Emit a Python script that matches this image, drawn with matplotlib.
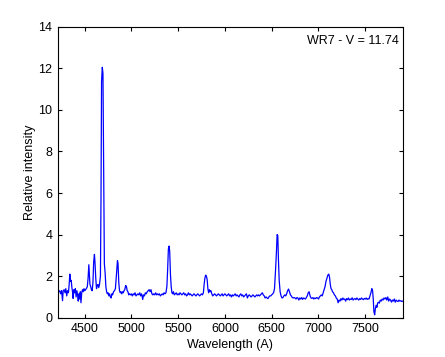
import matplotlib
matplotlib.use("Agg")
import matplotlib.pyplot as plt
import numpy as np

# spectrum of WR7 (wavelength in A, relative intensity)
wavelength = [
    4215, 4225, 4235, 4245, 4255, 4265, 4272, 4282, 4292, 4300, 4310, 4318, 4328, 4336, 4343, 4350,
    4358, 4365, 4372, 4378, 4386, 4394, 4402, 4410, 4418, 4426, 4433, 4440, 4448, 4455, 4462, 4470,
    4478, 4486, 4494, 4502, 4510, 4520, 4530, 4538, 4546, 4552, 4558, 4566, 4574, 4582, 4590, 4598,
    4606, 4612, 4620, 4628, 4636, 4644, 4652, 4660, 4670, 4676, 4682, 4690, 4697, 4704, 4712, 4720,
    4728, 4736, 4744, 4752, 4760, 4768, 4776, 4784, 4792, 4800, 4810, 4820, 4830, 4838, 4846, 4852,
    4858, 4866, 4874, 4882, 4890, 4898, 4906, 4914, 4922, 4930, 4940, 4948, 4956, 4964, 4972, 4980,
    4990, 5000, 5010, 5020, 5030, 5040, 5050, 5060, 5070, 5080, 5090, 5100, 5110, 5122, 5130, 5140,
    5150, 5160, 5170, 5180, 5190, 5200, 5210, 5220, 5230, 5240, 5250, 5260, 5270, 5280, 5290, 5300,
    5310, 5320, 5330, 5340, 5350, 5360, 5370, 5380, 5388, 5396, 5404, 5410, 5418, 5426, 5434, 5442,
    5450, 5460, 5470, 5480, 5490, 5500, 5510, 5520, 5530, 5540, 5550, 5560, 5570, 5580, 5590, 5600,
    5610, 5620, 5630, 5640, 5650, 5660, 5670, 5680, 5690, 5700, 5710, 5720, 5730, 5740, 5750, 5760,
    5770, 5778, 5786, 5794, 5802, 5810, 5818, 5826, 5834, 5842, 5850, 5860, 5870, 5880, 5890, 5900,
    5910, 5920, 5930, 5940, 5950, 5960, 5970, 5980, 5990, 6000, 6010, 6020, 6030, 6040, 6050, 6060,
    6070, 6080, 6090, 6100, 6110, 6120, 6130, 6140, 6150, 6160, 6170, 6180, 6190, 6200, 6210, 6220,
    6230, 6240, 6250, 6260, 6270, 6280, 6290, 6300, 6310, 6320, 6330, 6340, 6350, 6360, 6370, 6380,
    6390, 6400, 6410, 6420, 6430, 6440, 6450, 6460, 6470, 6480, 6490, 6500, 6510, 6520, 6530, 6540,
    6550, 6558, 6565, 6572, 6580, 6590, 6600, 6610, 6620, 6630, 6640, 6650, 6660, 6670, 6680, 6690,
    6700, 6710, 6720, 6730, 6740, 6750, 6760, 6770, 6780, 6790, 6800, 6810, 6820, 6830, 6840, 6850,
    6860, 6870, 6880, 6890, 6900, 6910, 6920, 6930, 6940, 6950, 6960, 6970, 6980, 6990, 7000, 7010,
    7020, 7030, 7040, 7050, 7060, 7070, 7080, 7090, 7100, 7110, 7118, 7126, 7134, 7142, 7150, 7160,
    7170, 7180, 7190, 7200, 7210, 7220, 7230, 7240, 7250, 7260, 7270, 7280, 7290, 7300, 7310, 7320,
    7330, 7340, 7350, 7360, 7370, 7380, 7390, 7400, 7410, 7420, 7430, 7440, 7450, 7460, 7470, 7480,
    7490, 7500, 7510, 7520, 7530, 7540, 7550, 7560, 7570, 7578, 7585, 7592, 7600, 7608, 7616, 7624,
    7632, 7640, 7650, 7660, 7670, 7680, 7690, 7700, 7710, 7720, 7730, 7740, 7750, 7760, 7770, 7780,
    7790, 7800, 7810, 7820, 7830, 7840, 7850, 7860, 7870, 7880, 7890, 7900,
]
intensity = [
    1.35, 1.25, 1.30, 1.15, 1.30, 0.82, 1.30, 1.35, 1.20, 1.40, 1.05, 1.30, 1.20, 1.60, 2.10, 1.75,
    1.80, 1.45, 1.25, 0.93, 1.35, 1.20, 1.40, 1.00, 1.30, 1.10, 0.80, 1.15, 0.90, 1.25, 0.72, 1.20,
    1.35, 1.25, 1.40, 1.30, 1.35, 1.40, 1.50, 1.90, 2.55, 2.10, 1.60, 1.50, 1.35, 1.30, 1.70, 2.70,
    3.05, 2.65, 1.90, 1.40, 1.55, 1.60, 1.45, 1.60, 2.00, 5.70, 11.35, 12.05, 11.75, 7.70, 2.60, 2.17,
    1.50, 1.25, 1.15, 1.20, 1.05, 1.15, 1.00, 0.95, 1.15, 1.10, 1.25, 1.30, 1.40, 1.90, 2.45, 2.75,
    2.60, 1.70, 1.30, 1.20, 1.25, 1.15, 1.25, 1.20, 1.30, 1.35, 1.55, 1.50, 1.30, 1.25, 1.10, 1.15,
    1.10, 1.15, 1.05, 1.15, 1.10, 1.20, 1.05, 1.10, 1.15, 1.10, 1.20, 1.05, 1.15, 0.88, 1.10, 1.05,
    1.20, 1.15, 1.25, 1.30, 1.35, 1.25, 1.35, 1.15, 1.10, 1.15, 1.10, 1.20, 1.10, 1.15, 1.10, 1.15,
    1.05, 1.10, 1.15, 1.10, 1.20, 1.15, 1.20, 1.50, 2.30, 3.30, 3.45, 3.20, 2.10, 1.50, 1.20, 1.15,
    1.25, 1.10, 1.15, 1.20, 1.10, 1.15, 1.10, 1.20, 1.15, 1.10, 1.15, 1.20, 1.10, 1.15, 1.05, 1.10,
    1.20, 1.10, 1.15, 1.10, 1.05, 1.10, 1.15, 1.10, 1.05, 1.10, 1.15, 1.10, 1.05, 1.10, 1.15, 1.10,
    1.20, 1.60, 1.90, 2.05, 2.00, 1.85, 1.40, 1.20, 1.35, 1.25, 1.30, 1.15, 1.05, 1.10, 1.15, 1.10,
    1.05, 1.10, 1.15, 1.10, 1.05, 1.10, 1.15, 1.05, 1.10, 1.15, 1.10, 1.05, 1.10, 1.15, 1.05, 1.10,
    1.00, 1.10, 1.05, 1.10, 1.15, 1.05, 1.10, 1.05, 1.00, 1.10, 1.15, 1.05, 1.10, 1.00, 1.05, 1.10,
    1.15, 0.95, 1.05, 1.10, 1.05, 1.00, 1.05, 1.10, 1.05, 1.00, 1.05, 1.10, 1.05, 1.10, 1.05, 1.10,
    1.15, 1.20, 1.10, 1.05, 0.95, 1.00, 0.95, 0.92, 1.00, 1.05, 1.05, 1.10, 1.15, 1.20, 1.40, 2.20,
    3.10, 4.00, 3.95, 2.80, 1.80, 1.25, 1.05, 0.95, 0.97, 1.05, 1.10, 1.05, 1.15, 1.30, 1.38, 1.25,
    1.10, 1.05, 0.97, 0.95, 0.97, 0.95, 0.90, 0.97, 0.95, 0.85, 0.95, 0.90, 0.97, 0.88, 0.95, 0.93,
    0.90, 0.97, 1.05, 1.20, 1.25, 1.05, 0.95, 0.93, 0.97, 0.90, 0.95, 0.92, 0.97, 0.95, 0.90, 1.00,
    1.05, 1.10, 1.05, 1.20, 1.35, 1.50, 1.75, 1.90, 2.05, 2.10, 1.95, 1.60, 1.40, 1.35, 1.25, 1.20,
    1.10, 1.05, 0.95, 0.90, 0.72, 0.85, 0.80, 0.92, 0.85, 0.95, 0.88, 0.90, 0.80, 0.92, 0.87, 0.95,
    0.85, 0.90, 0.88, 0.96, 0.85, 0.90, 0.92, 0.87, 0.95, 0.90, 0.85, 0.92, 0.88, 0.95, 0.90, 0.87,
    0.93, 0.90, 0.95, 0.88, 0.92, 0.90, 1.05, 1.20, 1.40, 1.30, 0.90, 0.30, 0.14, 0.45, 0.60, 0.50,
    0.70, 0.75, 0.70, 0.85, 0.80, 0.90, 0.85, 0.95, 0.90, 0.97, 0.85, 1.00, 0.80, 0.90, 0.85, 0.75,
    0.85, 0.80, 0.90, 0.75, 0.85, 0.80, 0.78, 0.85, 0.80, 0.82, 0.78, 0.80,
]
xticks = [4500, 5000, 5500, 6000, 6500, 7000, 7500]
yticks = [0, 2, 4, 6, 8, 10, 12, 14]

plt.rcParams['font.family'] = ['Liberation Sans', 'DejaVu Sans']
plt.rcParams['font.size'] = 9

fig = plt.figure(figsize=(4.45, 3.57), dpi=100)
ax = fig.add_axes([0.13, 0.11, 0.775, 0.815])
ax.plot(wavelength, intensity, color=(0, 0, 1), linewidth=0.9)

ax.set_xlim(4215, 7900)
ax.set_ylim(0, 14)
ax.set_xticks(xticks)
ax.set_yticks(yticks)
ax.tick_params(direction='in', top=True, right=True, length=3, width=0.8, pad=4)
for s in ax.spines.values():
    s.set_linewidth(0.8)

ax.set_xlabel('Wavelength (A)', labelpad=3)
ax.set_ylabel('Relative intensity', labelpad=2)
ax.text(0.988, 0.95, 'WR7 - V = 11.74', transform=ax.transAxes,
        ha='right', va='center')

fig.savefig('out.png', dpi=100, facecolor='white')
